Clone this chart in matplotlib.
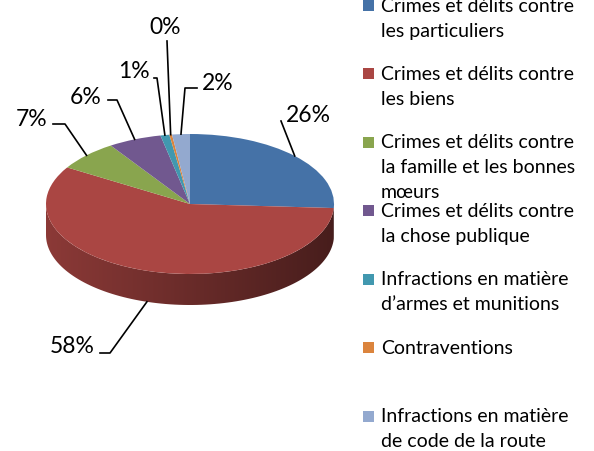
import numpy as np
import matplotlib.pyplot as plt
from matplotlib.colors import to_rgb
from matplotlib.transforms import Affine2D
from matplotlib.patches import Polygon

categories = [
    'Crimes et délits contre\nles particuliers',
    'Crimes et délits contre\nles biens',
    'Crimes et délits contre\nla famille et les bonnes\nmœurs',
    'Crimes et délits contre\nla chose publique',
    'Infractions en matière\nd’armes et munitions',
    'Contraventions',
    'Infractions en matière\nde code de la route',
]
values = [26, 58, 7, 6, 1, 0.3, 2]
colors = ['#4572A7', '#AA4643', '#89A54E', '#71588F', '#4198AF', '#DB843D', '#93A9CF']

# label layout in pixel coords: text centre, line start, elbow x (None = straight)
label_pos = [(308, 115), (72, 347), (32, 119), (86, 97), (134, 72), (165, 27), (218, 83)]
line_start = [(281, 122), (100, 354), (53, 125), (108, 101), (154, 79), (167, 42), (197, 89)]
elbow_x = [None, 110, 65, 117, 157, None, 185]

plt.rcParams['font.family'] = ['Lato', 'DejaVu Sans']

fig = plt.figure(figsize=(5.94, 4.52), dpi=100)
ax = fig.add_axes([0, 0, 1, 1])

cx, cy = 190, 205
a, b = 144, 70
depth = 31
r = b / a
pie_tr = Affine2D().scale(1, -r).translate(cx, cy)

wedges, _ = ax.pie(values, colors=colors, startangle=90, counterclock=False,
                   radius=a, center=(0, 0), frame=True)
for w in wedges:
    w.set_transform(pie_tr + ax.transData)
    w.set_zorder(3)
    w.set_edgecolor('none')

# side wall (front half only), shaded from left to right
dz = depth / r
gx = np.linspace(-1, 1, 300)
shade = 0.82 - 0.4 * (gx + 1) / 2
for w, col in zip(wedges, colors):
    base = np.array(to_rgb(col))
    for k in (-2, -1, 0, 1):
        lo = max(w.theta1, 180 + 360 * k)
        hi = min(w.theta2, 360 + 360 * k)
        if hi <= lo:
            continue
        tt = np.radians(np.linspace(lo, hi, 100))
        top = np.column_stack([a * np.cos(tt), a * np.sin(tt)])
        bot = top[::-1] - [0, dz]
        pts = pie_tr.transform(np.vstack([top, bot]))
        side = Polygon(pts, closed=True, facecolor='none', edgecolor='none', zorder=2)
        ax.add_patch(side)
        grad = (base[None, None, :] * shade[None, :, None]).clip(0, 1)
        im = ax.imshow(grad, extent=(cx - a, cx + a, cy + b + depth + 2, cy - 2),
                       aspect='auto', interpolation='bilinear', zorder=2)
        im.set_clip_path(side)

# percentage labels with leader lines
total = sum(values)
for i, w in enumerate(wedges):
    m = np.radians((w.theta1 + w.theta2) / 2)
    px, py = a * np.cos(m), a * np.sin(m)
    if np.sin(m) < 0:
        py -= dz
    ex, ey = pie_tr.transform((px, py))
    sx, sy = line_start[i]
    if elbow_x[i] is None:
        xs, ys = [sx, ex], [sy, ey]
    else:
        xs, ys = [sx, elbow_x[i], ex], [sy, sy, ey]
    ax.plot(xs, ys, color='black', lw=1.2, zorder=4)
    pct = round(values[i] / total * 100)
    ax.text(label_pos[i][0], label_pos[i][1], f'{pct}%', fontsize=16.5,
            ha='center', va='center', zorder=5)

# legend
y0, step, lh = 6, 68.5, 25
for i, (lab, col) in enumerate(zip(categories, colors)):
    yy = y0 + i * step
    ax.add_patch(plt.Rectangle((363, yy - 5.5), 11, 11, facecolor=col, edgecolor='none'))
    for j, line in enumerate(lab.split('\n')):
        ax.text(381, yy + j * lh, line, fontsize=14, ha='left', va='center')

ax.set_aspect('auto')
ax.set_xlim(0, 594)
ax.set_ylim(452, 0)
ax.axis('off')

fig.savefig('out.png', dpi=100)
